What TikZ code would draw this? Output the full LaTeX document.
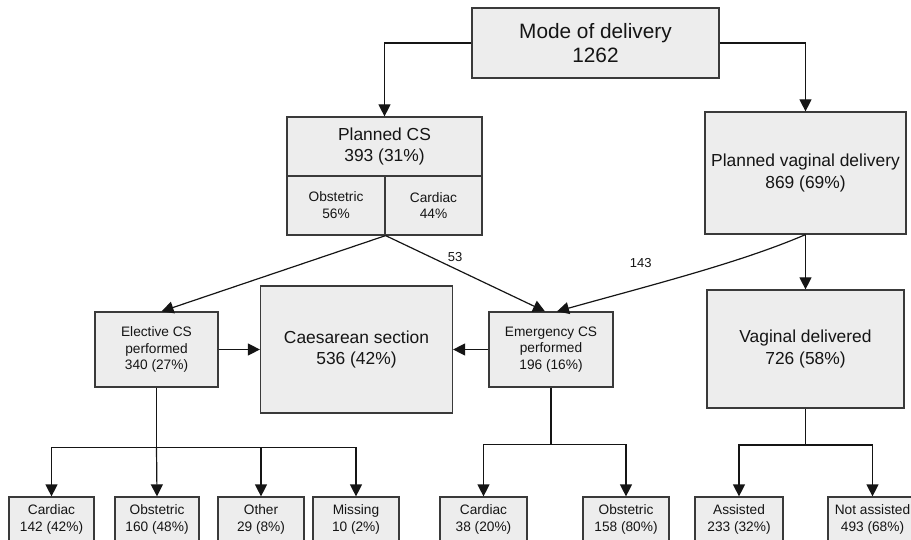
\documentclass[tikz,border=0pt]{standalone}
\usepackage{fontspec}
\setmainfont{Liberation Sans}
\usetikzlibrary{arrows.meta}
\definecolor{boxfill}{HTML}{EDEDED}
\definecolor{boxdraw}{HTML}{3A3A3A}
\definecolor{ink}{HTML}{151515}
\begin{document}
\begin{tikzpicture}[x=1pt,y=-1pt,
  box/.style={rectangle, draw=boxdraw, fill=boxfill, line width=1.2pt, align=center, inner sep=0pt, text=ink},
  conn/.style={draw=ink, line width=1.2pt},
  arr/.style={conn, -{Triangle[length=12pt,width=12pt]}},
  fmode/.style={font=\fontsize{20.8}{24}\selectfont},
  fbig/.style={font=\fontsize{17.4}{21.5}\selectfont},
  fsmall/.style={font=\fontsize{13.7}{16.8}\selectfont},
  lbl/.style={font=\fontsize{13}{15}\selectfont, text=ink, inner sep=0pt},
  bot/.style={box, fsmall, minimum height=45pt},
]
\useasboundingbox (0,0) rectangle (911,540);
\clip (0,0) rectangle (911,540);

% top level
\node[box, fmode, minimum width=247pt, minimum height=70pt] (mode) at (595.5,43) {Mode of delivery\\1262};

% planned CS (split box)
\node[box, fbig, minimum width=195pt, minimum height=59pt] (pcstop) at (384.5,146.5) {Planned CS\\393 (31\%)};
\node[box, fsmall, minimum width=98pt, minimum height=59pt] (pcsob) at (336,205.5) {Obstetric\\56\%};
\node[box, fsmall, minimum width=97pt, minimum height=59pt] (pcscard) at (433.5,205.5) {Cardiac\\44\%};
\coordinate (fork) at (pcsob.south east);

% planned vaginal
\node[box, fbig, minimum width=201pt, minimum height=122pt] (pvd) at (805.5,173) {Planned vaginal delivery\\869 (69\%)};

% middle row
\node[box, fsmall, minimum width=123pt, minimum height=75pt] (ecs) at (156.5,349.5) {Elective CS\\performed\\340 (27\%)};
\node[box, fbig, minimum width=192pt, minimum height=127pt] (cs) at (356.5,349.5) {Caesarean section\\536 (42\%)};
\node[box, fsmall, minimum width=124pt, minimum height=75pt] (emcs) at (551,349.5) {Emergency CS\\performed\\196 (16\%)};
\node[box, fbig, minimum width=197pt, minimum height=118pt] (vd) at (805.5,349) {Vaginal delivered\\726 (58\%)};

% bottom row
\node[bot, minimum width=85pt] (b1) at (51.5,519.5) {Cardiac\\142 (42\%)};
\node[bot, minimum width=84pt] (b2) at (157,519.5) {Obstetric\\160 (48\%)};
\node[bot, minimum width=86pt] (b3) at (261,519.5) {Other\\29 (8\%)};
\node[bot, minimum width=86pt] (b4) at (356,519.5) {Missing\\10 (2\%)};
\node[bot, minimum width=87pt] (b5) at (483.5,519.5) {Cardiac\\38 (20\%)};
\node[bot, minimum width=86pt] (b6) at (626,519.5) {Obstetric\\158 (80\%)};
\node[bot, minimum width=88pt] (b7) at (739,519.5) {Assisted\\233 (32\%)};
\node[bot, minimum width=89pt] (b8) at (872.5,519.5) {Not assisted\\493 (68\%)};

% junctions
\coordinate (j1) at (156.5,447.5);
\coordinate (j2) at (551,444.5);
\coordinate (j3) at (805.5,445);

% connectors
\draw[arr] (mode.west) -| (pcstop.north);
\draw[arr] (mode.east) -| (pvd.north);
\draw[arr] (fork) -- ([xshift=5pt]ecs.north);
\draw[arr] (fork) -- ([xshift=-6pt]emcs.north);
\draw[arr] (pvd.south) .. controls +(-65,28) and +(93,-26) .. ([xshift=6pt]emcs.north);
\draw[arr] (pvd.south) -- (vd.north);
\draw[arr] (ecs.east) -- (cs.west);
\draw[arr] (emcs.west) -- (cs.east);

\draw[conn] (ecs.south) -- (j1);
\draw[arr] (j1) -| (b1.north);
\draw[arr] (j1) -- (b2.north);
\draw[arr] (j1) -| (b3.north);
\draw[arr] (j1) -| (b4.north);

\draw[conn] (emcs.south) -- (j2);
\draw[arr] (j2) -| (b5.north);
\draw[arr] (j2) -| (b6.north);

\draw[conn] (vd.south) -- (j3);
\draw[arr] (j3) -| (b7.north);
\draw[arr] (j3) -| (b8.north);

% labels
\node[lbl] (l53) at (455,256.7) {53};
\node[lbl] (l143) at (640.7,263.3) {143};
\end{tikzpicture}
\end{document}
